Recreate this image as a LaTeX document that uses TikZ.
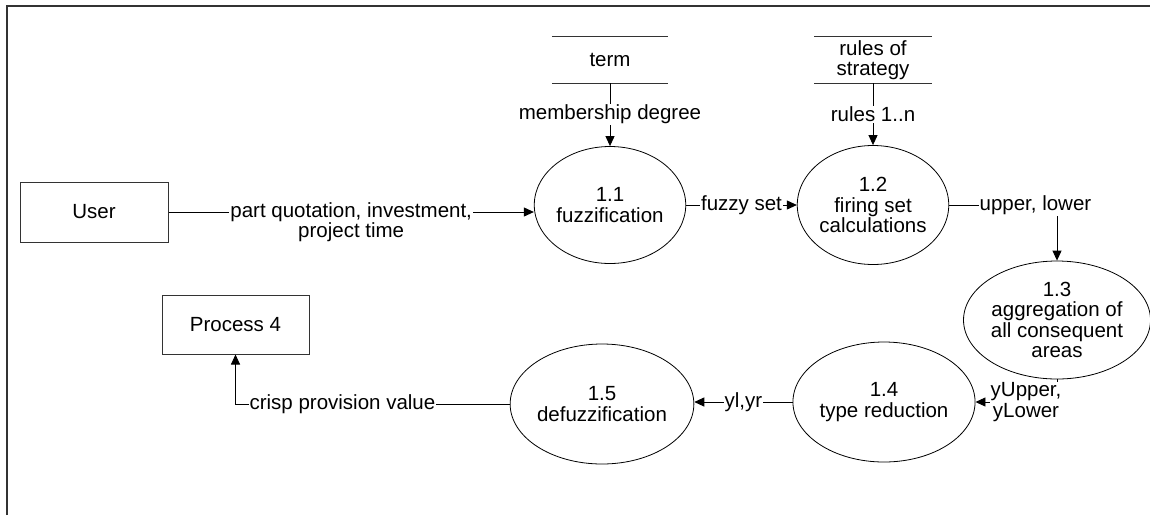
\documentclass[tikz,border=0pt]{standalone}
\usepackage{fontspec}
\setmainfont{Liberation Sans}
\usetikzlibrary{arrows.meta,shapes.geometric,calc}
\begin{document}
\begin{tikzpicture}[x=1pt,y=-1pt,
  every node/.style={font=\fontsize{20.5}{20.5}\selectfont, text=black},
  proc/.style={draw=black, line width=0.8pt, ellipse, inner sep=0pt, align=center},
  ent/.style={draw=black!80, line width=1pt, rectangle, inner sep=0pt, minimum width=148pt, minimum height=60pt},
  store/.style={inner sep=0pt, minimum width=116pt, minimum height=46pt, align=center},
  flow/.style={draw=black, line width=0.9pt, -{Triangle[length=10pt,width=9pt]}},
  lbl/.style={fill=white, inner sep=1pt, align=center},
  frameline/.style={draw=black!80, line width=1.4pt}]
\useasboundingbox (0,0) rectangle (1150,515);
% frame
\coordinate (fb) at (7,515);
\coordinate (fc) at (7,6);
\coordinate (fr) at (1150,6);
\draw[frameline] (fb) -- (fc) -- (fr);

% external entities
\node[ent] (user) at (94,212) {User};
\node[ent, minimum width=147pt, minimum height=59pt] (p4) at (235.5,324.5) {Process 4};

% data stores
\node[store] (term) at (610,60) {term};
\draw[line width=0.8pt, black!80] (term.north west) -- (term.north east) (term.south west) -- (term.south east);
\node[store, minimum width=117pt] (rules) at (873,60) {rules of\\strategy};
\draw[line width=0.8pt, black!80] (rules.north west) -- (rules.north east) (rules.south west) -- (rules.south east);

% processes
\node[proc, minimum width=146pt, minimum height=117pt] (f11) at (610,205) {1.1\\fuzzification};
\node[proc, minimum width=148pt, minimum height=119pt] (f12) at (873,205) {1.2\\firing set\\calculations};
\node[proc, minimum width=148pt, minimum height=118pt] (f13) at (1057,320) {1.3\\aggregation of\\all consequent\\areas};
\node[proc, minimum width=153pt, minimum height=120pt] (f14) at (884,402) {1.4\\type reduction};
\node[proc, minimum width=153pt, minimum height=120pt] (f15) at (602,404) {1.5\\defuzzification};

% flows
\draw[flow] (user.east) -- node[lbl, yshift=-10pt]{part quotation, investment,\\project time} (user.east -| f11.west);
\draw[flow] (term.south) -- node[lbl]{membership degree} (f11.north);
\draw[flow] (rules.south) -- node[lbl]{rules 1..n} (f12.north);
\draw[flow] (f11.east) -- node[lbl]{fuzzy set} (f12.west);
\draw[flow] (f12.east) -- node[lbl, pos=0.8]{upper, lower} (f12.east -| f13.north) -- (f13.north);
\draw[flow] (f13.south) -- (f13.south |- f14.east) -- node[lbl, pos=0.38]{yUpper,\\yLower} (f14.east);
\draw[flow] (f14.west) -- node[lbl]{yl,yr} (f14.west -| f15.east);
\draw[flow] (f15.west) -- node[lbl, pos=0.61]{crisp provision value} (f15.west -| p4.south) -- (p4.south);
\end{tikzpicture}
\end{document}
